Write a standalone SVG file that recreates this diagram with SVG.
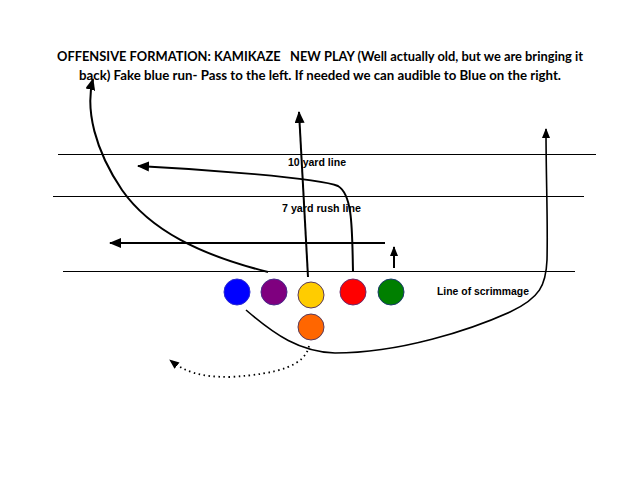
<svg xmlns="http://www.w3.org/2000/svg" width="638" height="479" viewBox="0 0 638 479">
<defs>
<marker id="ah" markerUnits="userSpaceOnUse" markerWidth="12" markerHeight="10" refX="11" refY="5" orient="auto">
<path d="M0,0 L12,5 L0,10 Z" fill="#000"/>
</marker>
<marker id="ahs" markerUnits="userSpaceOnUse" markerWidth="10" markerHeight="8" refX="9" refY="4" orient="auto">
<path d="M0,0 L10,4 L0,8 Z" fill="#000"/>
</marker>
</defs>
<style>
.title{font-family:Lato,"Liberation Sans",sans-serif;font-weight:bold;font-size:12.5px;fill:#000;white-space:pre}
.lbl{font-family:"Liberation Sans",Arial,sans-serif;font-weight:bold;font-size:10px;fill:#000}
.yl{stroke:#000;stroke-width:1;fill:none}
.rt{stroke:#000;stroke-width:2;fill:none}
.pl{stroke-width:1}
</style>
<rect width="638" height="479" fill="#fff"/>
<text class="title" x="320" y="61" text-anchor="middle" textLength="526" lengthAdjust="spacingAndGlyphs" xml:space="preserve">OFFENSIVE FORMATION: KAMIKAZE&#160;&#160; NEW PLAY (Well actually old, but we are bringing it</text>
<text class="title" x="320" y="80" text-anchor="middle" textLength="482" lengthAdjust="spacingAndGlyphs">back) Fake blue run- Pass to the left. If needed we can audible to Blue on the right.</text>
<g id="field">
<line class="yl" x1="58" y1="154.5" x2="596" y2="154.5"/>
<line class="yl" x1="53" y1="196.5" x2="584" y2="196.5"/>
<line class="yl" x1="63" y1="271.5" x2="575" y2="271.5"/>
<text class="lbl" x="288" y="166" textLength="58" lengthAdjust="spacingAndGlyphs">10 yard line</text>
<text class="lbl" x="282" y="212" textLength="79" lengthAdjust="spacingAndGlyphs">7 yard rush line</text>
<text class="lbl" x="437" y="295" textLength="92" lengthAdjust="spacingAndGlyphs">Line of scrimmage</text>
</g>
<g id="connectors">
<path class="rt" d="M268,272 C200,255 150,230 122,190 C95,150 85,110 93,79" marker-end="url(#ah)"/>
<path class="rt" d="M308,277 L299,112" marker-end="url(#ah)"/>
<path class="rt" d="M353,271 C352,230 353,195 338,186 C320,178 200,169 138,166" marker-end="url(#ah)"/>
<path class="rt" d="M385,243 L110,243" marker-end="url(#ah)"/>
<path class="rt" d="M394,268 L394,247" marker-end="url(#ahs)"/>
<path class="yl" style="stroke-width:1.6" d="M246,310 C275,335 300,352 335,353 C400,353 470,330 510,312 C540,298 546,285 547,260 C548,220 546,180 546,129" marker-end="url(#ahs)"/>
<path class="yl" style="stroke-width:1.8;stroke-dasharray:1.5 3.5" d="M309,346 C305,365 280,374 230,377 C200,377 185,372 170,360" marker-end="url(#ahs)"/>
</g>
<g id="blue"><circle class="pl" cx="237" cy="292" r="13" fill="#0000FF" stroke="#2a2ad0"/></g>
<g id="purple"><circle class="pl" cx="274" cy="292" r="13" fill="#7F007F" stroke="#4a2a8a"/></g>
<g id="yellow"><circle class="pl" cx="311" cy="295" r="13" fill="#FFCC00" stroke="#5a3a5a"/></g>
<g id="orange"><circle class="pl" cx="311" cy="327" r="13" fill="#FF6600" stroke="#5a3a5a"/></g>
<g id="red"><circle class="pl" cx="353" cy="292" r="13" fill="#FF0000" stroke="#6a2a6a"/></g>
<g id="green"><circle class="pl" cx="391" cy="292" r="13" fill="#007F00" stroke="#1a3a6a"/></g>
</svg>
